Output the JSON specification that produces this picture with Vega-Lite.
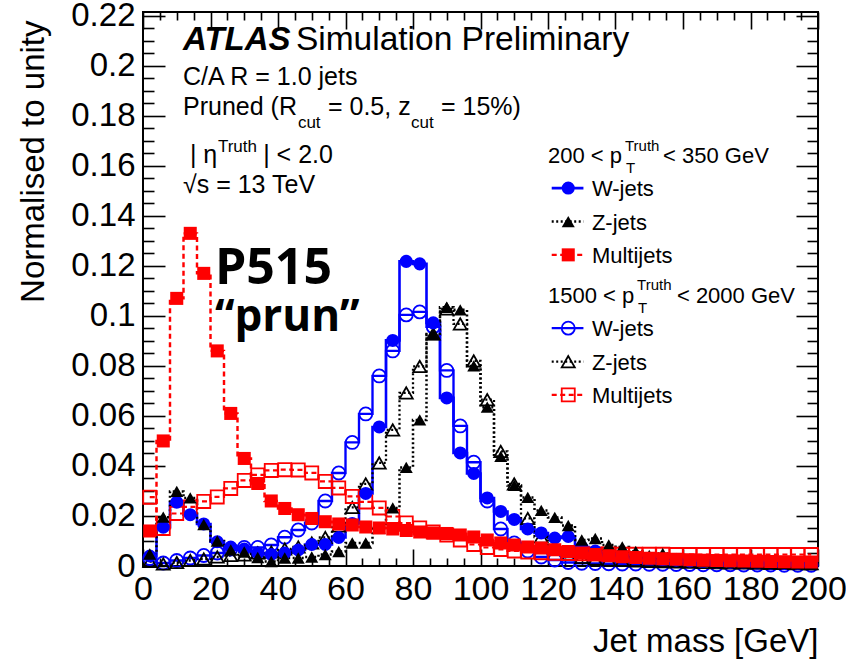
{
 "$schema": "https://vega.github.io/schema/vega-lite/v6.json",
 "width": 675,
 "height": 554,
 "autosize": {"type": "none"},
 "padding": {"left": 143, "top": 12, "right": 28, "bottom": 104},
 "background": "white",
 "config": {
  "view": {"stroke": "#000", "strokeWidth": 2},
  "font": "Liberation Sans",
  "axis": {"domain": false, "grid": false, "labelFont": "Liberation Sans", "titleFont": "Liberation Sans", "labelColor": "#000", "titleColor": "#000", "tickColor": "#000", "tickWidth": 1.6, "titleFontWeight": "normal", "labelOverlap": false, "labelFlush": false, "labelBound": false}
 },
 "datasets": {
  "h": [
   {"s":"Wl","m":2,"v":0.004},{"s":"Wl","m":6,"v":0.0155},{"s":"Wl","m":10,"v":0.0255},{"s":"Wl","m":14,"v":0.0205},{"s":"Wl","m":18,"v":0.0168},{"s":"Wl","m":22,"v":0.0097},{"s":"Wl","m":26,"v":0.0076},{"s":"Wl","m":30,"v":0.0068},{"s":"Wl","m":34,"v":0.0052},{"s":"Wl","m":38,"v":0.0046},
   {"s":"Wl","m":42,"v":0.0052},{"s":"Wl","m":46,"v":0.0064},{"s":"Wl","m":50,"v":0.0086},{"s":"Wl","m":54,"v":0.0086},{"s":"Wl","m":58,"v":0.0114},{"s":"Wl","m":62,"v":0.017},{"s":"Wl","m":66,"v":0.029},{"s":"Wl","m":70,"v":0.0556},{"s":"Wl","m":74,"v":0.0902},{"s":"Wl","m":78,"v":0.1218},
   {"s":"Wl","m":82,"v":0.1208},{"s":"Wl","m":86,"v":0.0972},{"s":"Wl","m":90,"v":0.0672},{"s":"Wl","m":94,"v":0.0452},{"s":"Wl","m":98,"v":0.037},{"s":"Wl","m":102,"v":0.0272},{"s":"Wl","m":106,"v":0.0218},{"s":"Wl","m":110,"v":0.0186},{"s":"Wl","m":114,"v":0.0148},{"s":"Wl","m":118,"v":0.0132},
   {"s":"Wl","m":122,"v":0.0112},{"s":"Wl","m":126,"v":0.0118},{"s":"Wl","m":130,"v":0.0076},{"s":"Wl","m":134,"v":0.006},{"s":"Wl","m":138,"v":0.0048},{"s":"Wl","m":142,"v":0.004},{"s":"Wl","m":146,"v":0.0034},{"s":"Wl","m":150,"v":0.003},{"s":"Wl","m":154,"v":0.0026},{"s":"Wl","m":158,"v":0.0023},
   {"s":"Wl","m":162,"v":0.002},{"s":"Wl","m":166,"v":0.0018},{"s":"Wl","m":170,"v":0.0016},{"s":"Wl","m":174,"v":0.0015},{"s":"Wl","m":178,"v":0.0013},{"s":"Wl","m":182,"v":0.0012},{"s":"Wl","m":186,"v":0.0011},{"s":"Wl","m":190,"v":0.001},{"s":"Wl","m":194,"v":0.001},{"s":"Wl","m":198,"v":0.0009},

   {"s":"Zl","m":2,"v":0.0048},{"s":"Zl","m":6,"v":0.0195},{"s":"Zl","m":10,"v":0.0298},{"s":"Zl","m":14,"v":0.0272},{"s":"Zl","m":18,"v":0.0166},{"s":"Zl","m":22,"v":0.01},{"s":"Zl","m":26,"v":0.0064},{"s":"Zl","m":30,"v":0.0056},{"s":"Zl","m":34,"v":0.0034},{"s":"Zl","m":38,"v":0.0018},
   {"s":"Zl","m":42,"v":0.0032},{"s":"Zl","m":46,"v":0.0032},{"s":"Zl","m":50,"v":0.0036},{"s":"Zl","m":54,"v":0.0046},{"s":"Zl","m":58,"v":0.0058},{"s":"Zl","m":62,"v":0.0092},{"s":"Zl","m":66,"v":0.0092},{"s":"Zl","m":70,"v":0.0152},{"s":"Zl","m":74,"v":0.0232},{"s":"Zl","m":78,"v":0.0394},
   {"s":"Zl","m":82,"v":0.0584},{"s":"Zl","m":86,"v":0.0925},{"s":"Zl","m":90,"v":0.1034},{"s":"Zl","m":94,"v":0.1024},{"s":"Zl","m":98,"v":0.08},{"s":"Zl","m":102,"v":0.0635},{"s":"Zl","m":106,"v":0.0438},{"s":"Zl","m":110,"v":0.0322},{"s":"Zl","m":114,"v":0.0274},{"s":"Zl","m":118,"v":0.0222},
   {"s":"Zl","m":122,"v":0.0194},{"s":"Zl","m":126,"v":0.0162},{"s":"Zl","m":130,"v":0.0104},{"s":"Zl","m":134,"v":0.011},{"s":"Zl","m":138,"v":0.0084},{"s":"Zl","m":142,"v":0.0076},{"s":"Zl","m":146,"v":0.0058},{"s":"Zl","m":150,"v":0.0042},{"s":"Zl","m":154,"v":0.005},{"s":"Zl","m":158,"v":0.003},
   {"s":"Zl","m":162,"v":0.0026},{"s":"Zl","m":166,"v":0.0018},{"s":"Zl","m":170,"v":0.0014},{"s":"Zl","m":174,"v":0.0016},{"s":"Zl","m":178,"v":0.0012},{"s":"Zl","m":182,"v":0.0012},{"s":"Zl","m":186,"v":0.001},{"s":"Zl","m":190,"v":0.0011},{"s":"Zl","m":194,"v":0.0009},{"s":"Zl","m":198,"v":0.0006},

   {"s":"Ml","m":2,"v":0.014},{"s":"Ml","m":6,"v":0.05},{"s":"Ml","m":10,"v":0.107},{"s":"Ml","m":14,"v":0.133},{"s":"Ml","m":18,"v":0.117},{"s":"Ml","m":22,"v":0.086},{"s":"Ml","m":26,"v":0.061},{"s":"Ml","m":30,"v":0.043},{"s":"Ml","m":34,"v":0.033},{"s":"Ml","m":38,"v":0.026},
   {"s":"Ml","m":42,"v":0.023},{"s":"Ml","m":46,"v":0.0205},{"s":"Ml","m":50,"v":0.019},{"s":"Ml","m":54,"v":0.0177},{"s":"Ml","m":58,"v":0.0168},{"s":"Ml","m":62,"v":0.0164},{"s":"Ml","m":66,"v":0.0156},{"s":"Ml","m":70,"v":0.0152},{"s":"Ml","m":74,"v":0.0148},{"s":"Ml","m":78,"v":0.0142},
   {"s":"Ml","m":82,"v":0.0136},{"s":"Ml","m":86,"v":0.0132},{"s":"Ml","m":90,"v":0.013},{"s":"Ml","m":94,"v":0.0124},{"s":"Ml","m":98,"v":0.0116},{"s":"Ml","m":102,"v":0.0104},{"s":"Ml","m":106,"v":0.0092},{"s":"Ml","m":110,"v":0.0084},{"s":"Ml","m":114,"v":0.0076},{"s":"Ml","m":118,"v":0.0072},
   {"s":"Ml","m":122,"v":0.0065},{"s":"Ml","m":126,"v":0.0058},{"s":"Ml","m":130,"v":0.0052},{"s":"Ml","m":134,"v":0.0046},{"s":"Ml","m":138,"v":0.0041},{"s":"Ml","m":142,"v":0.0037},{"s":"Ml","m":146,"v":0.0034},{"s":"Ml","m":150,"v":0.0031},{"s":"Ml","m":154,"v":0.0029},{"s":"Ml","m":158,"v":0.0027},
   {"s":"Ml","m":162,"v":0.0025},{"s":"Ml","m":166,"v":0.0023},{"s":"Ml","m":170,"v":0.0022},{"s":"Ml","m":174,"v":0.0021},{"s":"Ml","m":178,"v":0.002},{"s":"Ml","m":182,"v":0.0019},{"s":"Ml","m":186,"v":0.0018},{"s":"Ml","m":190,"v":0.0017},{"s":"Ml","m":194,"v":0.0016},{"s":"Ml","m":198,"v":0.0016},

   {"s":"Wh","m":2,"v":0.003},{"s":"Wh","m":6,"v":0.0012},{"s":"Wh","m":10,"v":0.0022},{"s":"Wh","m":14,"v":0.0032},{"s":"Wh","m":18,"v":0.0042},{"s":"Wh","m":22,"v":0.0052},{"s":"Wh","m":26,"v":0.0068},{"s":"Wh","m":30,"v":0.0074},{"s":"Wh","m":34,"v":0.0074},{"s":"Wh","m":38,"v":0.0084},
   {"s":"Wh","m":42,"v":0.0115},{"s":"Wh","m":46,"v":0.0144},{"s":"Wh","m":50,"v":0.0172},{"s":"Wh","m":54,"v":0.026},{"s":"Wh","m":58,"v":0.0372},{"s":"Wh","m":62,"v":0.0494},{"s":"Wh","m":66,"v":0.0608},{"s":"Wh","m":70,"v":0.076},{"s":"Wh","m":74,"v":0.086},{"s":"Wh","m":78,"v":0.1004},
   {"s":"Wh","m":82,"v":0.1016},{"s":"Wh","m":86,"v":0.0956},{"s":"Wh","m":90,"v":0.0782},{"s":"Wh","m":94,"v":0.056},{"s":"Wh","m":98,"v":0.0415},{"s":"Wh","m":102,"v":0.026},{"s":"Wh","m":106,"v":0.0148},{"s":"Wh","m":110,"v":0.0092},{"s":"Wh","m":114,"v":0.006},{"s":"Wh","m":118,"v":0.0036},
   {"s":"Wh","m":122,"v":0.0024},{"s":"Wh","m":126,"v":0.0014},{"s":"Wh","m":130,"v":0.0011},{"s":"Wh","m":134,"v":0.001},{"s":"Wh","m":138,"v":0.0009},{"s":"Wh","m":142,"v":0.0008},{"s":"Wh","m":146,"v":0.0008},{"s":"Wh","m":150,"v":0.0007},{"s":"Wh","m":154,"v":0.0007},{"s":"Wh","m":158,"v":0.0006},
   {"s":"Wh","m":162,"v":0.0006},{"s":"Wh","m":166,"v":0.0005},{"s":"Wh","m":170,"v":0.0005},{"s":"Wh","m":174,"v":0.0005},{"s":"Wh","m":178,"v":0.0004},{"s":"Wh","m":182,"v":0.0004},{"s":"Wh","m":186,"v":0.0004},{"s":"Wh","m":190,"v":0.0003},{"s":"Wh","m":194,"v":0.0003},{"s":"Wh","m":198,"v":0.0003},

   {"s":"Zh","m":2,"v":0.0018},{"s":"Zh","m":6,"v":0.0008},{"s":"Zh","m":10,"v":0.0014},{"s":"Zh","m":14,"v":0.0022},{"s":"Zh","m":18,"v":0.0028},{"s":"Zh","m":22,"v":0.0036},{"s":"Zh","m":26,"v":0.0042},{"s":"Zh","m":30,"v":0.0044},{"s":"Zh","m":34,"v":0.0052},{"s":"Zh","m":38,"v":0.0056},
   {"s":"Zh","m":42,"v":0.0068},{"s":"Zh","m":46,"v":0.0076},{"s":"Zh","m":50,"v":0.0092},{"s":"Zh","m":54,"v":0.0114},{"s":"Zh","m":58,"v":0.016},{"s":"Zh","m":62,"v":0.0234},{"s":"Zh","m":66,"v":0.0328},{"s":"Zh","m":70,"v":0.0412},{"s":"Zh","m":74,"v":0.0544},{"s":"Zh","m":78,"v":0.0692},
   {"s":"Zh","m":82,"v":0.0798},{"s":"Zh","m":86,"v":0.0928},{"s":"Zh","m":90,"v":0.1028},{"s":"Zh","m":94,"v":0.0968},{"s":"Zh","m":98,"v":0.082},{"s":"Zh","m":102,"v":0.0665},{"s":"Zh","m":106,"v":0.0458},{"s":"Zh","m":110,"v":0.0328},{"s":"Zh","m":114,"v":0.019},{"s":"Zh","m":118,"v":0.0116},
   {"s":"Zh","m":122,"v":0.0074},{"s":"Zh","m":126,"v":0.0048},{"s":"Zh","m":130,"v":0.0034},{"s":"Zh","m":134,"v":0.0028},{"s":"Zh","m":138,"v":0.0024},{"s":"Zh","m":142,"v":0.0022},{"s":"Zh","m":146,"v":0.002},{"s":"Zh","m":150,"v":0.0018},{"s":"Zh","m":154,"v":0.0017},{"s":"Zh","m":158,"v":0.0016},
   {"s":"Zh","m":162,"v":0.0015},{"s":"Zh","m":166,"v":0.0014},{"s":"Zh","m":170,"v":0.0013},{"s":"Zh","m":174,"v":0.0012},{"s":"Zh","m":178,"v":0.0012},{"s":"Zh","m":182,"v":0.0011},{"s":"Zh","m":186,"v":0.001},{"s":"Zh","m":190,"v":0.001},{"s":"Zh","m":194,"v":0.0009},{"s":"Zh","m":198,"v":0.0009},

   {"s":"Mh","m":2,"v":0.0275},{"s":"Mh","m":6,"v":0.015},{"s":"Mh","m":10,"v":0.021},{"s":"Mh","m":14,"v":0.0236},{"s":"Mh","m":18,"v":0.0258},{"s":"Mh","m":22,"v":0.0276},{"s":"Mh","m":26,"v":0.031},{"s":"Mh","m":30,"v":0.0342},{"s":"Mh","m":34,"v":0.0364},{"s":"Mh","m":38,"v":0.0382},
   {"s":"Mh","m":42,"v":0.0385},{"s":"Mh","m":46,"v":0.0384},{"s":"Mh","m":50,"v":0.0372},{"s":"Mh","m":54,"v":0.0338},{"s":"Mh","m":58,"v":0.0312},{"s":"Mh","m":62,"v":0.0278},{"s":"Mh","m":66,"v":0.0256},{"s":"Mh","m":70,"v":0.0232},{"s":"Mh","m":74,"v":0.0198},{"s":"Mh","m":78,"v":0.0172},
   {"s":"Mh","m":82,"v":0.0152},{"s":"Mh","m":86,"v":0.0136},{"s":"Mh","m":90,"v":0.0124},{"s":"Mh","m":94,"v":0.0104},{"s":"Mh","m":98,"v":0.0086},{"s":"Mh","m":102,"v":0.0074},{"s":"Mh","m":106,"v":0.0066},{"s":"Mh","m":110,"v":0.006},{"s":"Mh","m":114,"v":0.0056},{"s":"Mh","m":118,"v":0.0053},
   {"s":"Mh","m":122,"v":0.0051},{"s":"Mh","m":126,"v":0.005},{"s":"Mh","m":130,"v":0.0049},{"s":"Mh","m":134,"v":0.0048},{"s":"Mh","m":138,"v":0.0048},{"s":"Mh","m":142,"v":0.0047},{"s":"Mh","m":146,"v":0.0047},{"s":"Mh","m":150,"v":0.0047},{"s":"Mh","m":154,"v":0.0047},{"s":"Mh","m":158,"v":0.0046},
   {"s":"Mh","m":162,"v":0.0046},{"s":"Mh","m":166,"v":0.0046},{"s":"Mh","m":170,"v":0.0046},{"s":"Mh","m":174,"v":0.0046},{"s":"Mh","m":178,"v":0.0046},{"s":"Mh","m":182,"v":0.0046},{"s":"Mh","m":186,"v":0.0046},{"s":"Mh","m":190,"v":0.0046},{"s":"Mh","m":194,"v":0.0046},{"s":"Mh","m":198,"v":0.0046}
  ],
  "legl": [
   {"s":"Wl","lx":121.1,"ly":0.1511},{"s":"Wl","lx":130.5,"ly":0.1511},
   {"s":"Zl","lx":121.1,"ly":0.1377},{"s":"Zl","lx":130.5,"ly":0.1377},
   {"s":"Ml","lx":121.1,"ly":0.1244},{"s":"Ml","lx":130.5,"ly":0.1244},
   {"s":"Wh","lx":121.1,"ly":0.0951},{"s":"Wh","lx":130.5,"ly":0.0951},
   {"s":"Zh","lx":121.1,"ly":0.0817},{"s":"Zh","lx":130.5,"ly":0.0817},
   {"s":"Mh","lx":121.1,"ly":0.0684},{"s":"Mh","lx":130.5,"ly":0.0684}
  ],
  "legp": [
   {"s":"Wl","lx":126,"ly":0.1511},{"s":"Zl","lx":126,"ly":0.1377},{"s":"Ml","lx":126,"ly":0.1244},
   {"s":"Wh","lx":126,"ly":0.0951},{"s":"Zh","lx":126,"ly":0.0817},{"s":"Mh","lx":126,"ly":0.0684}
  ],
  "txt": [
   {"g":"main","t":"C/A R = 1.0 jets","x":11.85,"y":0.1924},
   {"g":"main","t":"Pruned (R","x":11.85,"y":0.1804},
   {"g":"main","t":"= 0.5, z","x":54.8,"y":0.1804},
   {"g":"main","t":"= 15%)","x":88.3,"y":0.1804},
   {"g":"main","t":"| η","x":13.9,"y":0.1612},
   {"g":"main","t":"| < 2.0","x":35.6,"y":0.1612},
   {"g":"main","t":"√s = 13 TeV","x":11.85,"y":0.1492},
   {"g":"sub","t":"cut","x":45.9,"y":0.1752},
   {"g":"sub","t":"cut","x":79.4,"y":0.1752},
   {"g":"sub","t":"Truth","x":22.2,"y":0.1656},
   {"g":"atlas","t":"ATLAS","x":11.85,"y":0.2064},
   {"g":"sim","t":"Simulation Preliminary","x":45.3,"y":0.2064},
   {"g":"leg","t":"200 < p","x":120,"y":0.1612},
   {"g":"leg","t":"< 350 GeV","x":154.1,"y":0.1612},
   {"g":"leg","t":"W-jets","x":133,"y":0.1479},
   {"g":"leg","t":"Z-jets","x":133,"y":0.1345},
   {"g":"leg","t":"Multijets","x":133,"y":0.1212},
   {"g":"leg","t":"1500 < p","x":120,"y":0.1052},
   {"g":"leg","t":"< 2000 GeV","x":158.2,"y":0.1052},
   {"g":"leg","t":"W-jets","x":133,"y":0.0919},
   {"g":"leg","t":"Z-jets","x":133,"y":0.0785},
   {"g":"leg","t":"Multijets","x":133,"y":0.0652},
   {"g":"legs","t":"Truth","x":142.8,"y":0.166},
   {"g":"legs","t":"T","x":143.1,"y":0.1572},
   {"g":"legs","t":"Truth","x":146.4,"y":0.1104},
   {"g":"legs","t":"T","x":146.7,"y":0.1012},
   {"g":"big","t":"P515","x":21.3,"y":0.1128},
   {"g":"big2","t":"“prun”","x":21.3,"y":0.0938}
  ]
 },
 "resolve": {"scale": {"x": "shared", "y": "shared"}, "axis": {"x": "independent", "y": "independent"}},
 "layer": [
  {
   "data": {"name": "h"},
   "mark": {"type": "line", "interpolate": "step"},
   "encoding": {
    "x": {"field": "m", "type": "quantitative", "scale": {"domain": [0, 200], "nice": false, "zero": false},
     "axis": {"orient": "bottom", "values": [0,20,40,60,80,100,120,140,160,180,200], "ticks": false, "labelFontSize": 34, "labelPadding": 6, "title": "Jet mass [GeV]", "titleFontSize": 33, "titleAnchor": "end", "titleAlign": "right", "titleBaseline": "alphabetic", "titleX": 675, "titleY": 85}},
    "y": {"field": "v", "type": "quantitative", "scale": {"domain": [0, 0.2215], "nice": false, "zero": false},
     "axis": {"orient": "left", "values": [0,0.02,0.04,0.06,0.08,0.1,0.12,0.14,0.16,0.18,0.2,0.22], "format": "~g", "ticks": false, "labelFontSize": 33, "labelPadding": 8, "title": "Normalised to unity", "titleFontSize": 33, "titleAngle": -90, "titleAlign": "right", "titleBaseline": "alphabetic", "titleX": -100, "titleY": 8}},
    "color": {"field": "s", "type": "nominal", "scale": {"domain": ["Wl","Zl","Ml","Wh","Zh","Mh"], "range": ["#0000ff","#000000","#ff0000","#0000ff","#000000","#ff0000"]}, "legend": null},
    "strokeDash": {"field": "s", "type": "nominal", "scale": {"domain": ["Wl","Zl","Ml","Wh","Zh","Mh"], "range": [[1,0],[2,2.5],[5,3.5],[1,0],[2,2.5],[5,3.5]]}, "legend": null},
    "strokeWidth": {"field": "s", "type": "nominal", "scale": {"domain": ["Wl","Zl","Ml","Wh","Zh","Mh"], "range": [2.6,2.2,2.8,2.6,2.2,2.8]}, "legend": null}
   }
  },
  {
   "data": {"name": "h"},
   "transform": [{"filter": {"field": "s", "oneOf": ["Wh","Zh","Mh"]}}],
   "mark": {"type": "point", "filled": false, "strokeWidth": 1.8, "size": 170, "opacity": 1},
   "encoding": {
    "x": {"field": "m", "type": "quantitative", "scale": {"domain": [0, 200], "nice": false, "zero": false},
     "axis": {"orient": "bottom", "values": [0,20,40,60,80,100,120,140,160,180,200], "labels": false, "tickSize": -17, "title": null}},
    "y": {"field": "v", "type": "quantitative", "scale": {"domain": [0, 0.2215], "nice": false, "zero": false},
     "axis": {"orient": "left", "values": [0,0.02,0.04,0.06,0.08,0.1,0.12,0.14,0.16,0.18,0.2,0.22], "labels": false, "tickSize": -22, "title": null}},
    "color": {"field": "s", "type": "nominal", "legend": null},
    "shape": {"field": "s", "type": "nominal", "scale": {"domain": ["Wl","Zl","Ml","Wh","Zh","Mh"], "range": ["circle","triangle-up","square","circle","triangle-up","square"]}, "legend": null}
   }
  },
  {
   "data": {"name": "h"},
   "transform": [{"filter": {"field": "s", "oneOf": ["Wl","Zl","Ml"]}}],
   "mark": {"type": "point", "filled": true, "size": 170, "opacity": 1},
   "encoding": {
    "x": {"field": "m", "type": "quantitative", "scale": {"domain": [0, 200], "nice": false, "zero": false},
     "axis": {"orient": "bottom", "values": [5,10,15,25,30,35,45,50,55,65,70,75,85,90,95,105,110,115,125,130,135,145,150,155,165,170,175,185,190,195], "labels": false, "tickSize": -8, "title": null}},
    "y": {"field": "v", "type": "quantitative", "scale": {"domain": [0, 0.2215], "nice": false, "zero": false},
     "axis": {"orient": "left", "values": [0.005,0.01,0.015,0.025,0.03,0.035,0.045,0.05,0.055,0.065,0.07,0.075,0.085,0.09,0.095,0.105,0.11,0.115,0.125,0.13,0.135,0.145,0.15,0.155,0.165,0.17,0.175,0.185,0.19,0.195,0.205,0.21,0.215], "labels": false, "tickSize": -11, "title": null}},
    "color": {"field": "s", "type": "nominal", "legend": null},
    "shape": {"field": "s", "type": "nominal", "legend": null}
   }
  },
  {
   "data": {"name": "legl"},
   "mark": {"type": "line"},
   "encoding": {
    "x": {"field": "lx", "type": "quantitative", "scale": {"domain": [0, 200], "nice": false, "zero": false},
     "axis": {"orient": "top", "values": [0,20,40,60,80,100,120,140,160,180,200], "labels": false, "tickSize": -17, "title": null}},
    "y": {"field": "ly", "type": "quantitative", "scale": {"domain": [0, 0.2215], "nice": false, "zero": false},
     "axis": {"orient": "right", "values": [0,0.02,0.04,0.06,0.08,0.1,0.12,0.14,0.16,0.18,0.2,0.22], "labels": false, "tickSize": -22, "title": null}},
    "detail": {"field": "s", "type": "nominal"},
    "color": {"field": "s", "type": "nominal", "legend": null},
    "strokeDash": {"field": "s", "type": "nominal", "legend": null},
    "strokeWidth": {"field": "s", "type": "nominal", "legend": null}
   }
  },
  {
   "data": {"name": "legp"},
   "transform": [{"filter": {"field": "s", "oneOf": ["Wl","Zl","Ml"]}}],
   "mark": {"type": "point", "filled": true, "size": 170, "opacity": 1},
   "encoding": {
    "x": {"field": "lx", "type": "quantitative", "scale": {"domain": [0, 200], "nice": false, "zero": false},
     "axis": {"orient": "top", "values": [5,10,15,25,30,35,45,50,55,65,70,75,85,90,95,105,110,115,125,130,135,145,150,155,165,170,175,185,190,195], "labels": false, "tickSize": -8, "title": null}},
    "y": {"field": "ly", "type": "quantitative", "scale": {"domain": [0, 0.2215], "nice": false, "zero": false},
     "axis": {"orient": "right", "values": [0.005,0.01,0.015,0.025,0.03,0.035,0.045,0.05,0.055,0.065,0.07,0.075,0.085,0.09,0.095,0.105,0.11,0.115,0.125,0.13,0.135,0.145,0.15,0.155,0.165,0.17,0.175,0.185,0.19,0.195,0.205,0.21,0.215], "labels": false, "tickSize": -11, "title": null}},
    "color": {"field": "s", "type": "nominal", "legend": null},
    "shape": {"field": "s", "type": "nominal", "legend": null}
   }
  },
  {
   "data": {"name": "legp"},
   "transform": [{"filter": {"field": "s", "oneOf": ["Wh","Zh","Mh"]}}],
   "mark": {"type": "point", "filled": false, "strokeWidth": 1.8, "size": 170, "opacity": 1},
   "encoding": {
    "x": {"field": "lx", "type": "quantitative", "scale": {"domain": [0, 200], "nice": false, "zero": false}, "axis": null},
    "y": {"field": "ly", "type": "quantitative", "scale": {"domain": [0, 0.2215], "nice": false, "zero": false}, "axis": null},
    "color": {"field": "s", "type": "nominal", "legend": null},
    "shape": {"field": "s", "type": "nominal", "legend": null}
   }
  },
  {
   "data": {"name": "txt"},
   "transform": [{"filter": {"field": "g", "equal": "main"}}],
   "mark": {"type": "text", "font": "Liberation Sans", "fontSize": 25, "align": "left", "baseline": "alphabetic", "color": "#000"},
   "encoding": {
    "x": {"field": "x", "type": "quantitative", "scale": {"domain": [0, 200], "nice": false, "zero": false}, "axis": null},
    "y": {"field": "y", "type": "quantitative", "scale": {"domain": [0, 0.2215], "nice": false, "zero": false}, "axis": null},
    "text": {"field": "t"}
   }
  },
  {
   "data": {"name": "txt"},
   "transform": [{"filter": {"field": "g", "equal": "sub"}}],
   "mark": {"type": "text", "font": "Liberation Sans", "fontSize": 17, "align": "left", "baseline": "alphabetic", "color": "#000"},
   "encoding": {
    "x": {"field": "x", "type": "quantitative", "scale": {"domain": [0, 200], "nice": false, "zero": false}, "axis": null},
    "y": {"field": "y", "type": "quantitative", "scale": {"domain": [0, 0.2215], "nice": false, "zero": false}, "axis": null},
    "text": {"field": "t"}
   }
  },
  {
   "data": {"name": "txt"},
   "transform": [{"filter": {"field": "g", "equal": "atlas"}}],
   "mark": {"type": "text", "font": "Liberation Sans", "fontSize": 33, "fontWeight": "bold", "fontStyle": "italic", "align": "left", "baseline": "alphabetic", "color": "#000"},
   "encoding": {
    "x": {"field": "x", "type": "quantitative", "scale": {"domain": [0, 200], "nice": false, "zero": false}, "axis": null},
    "y": {"field": "y", "type": "quantitative", "scale": {"domain": [0, 0.2215], "nice": false, "zero": false}, "axis": null},
    "text": {"field": "t"}
   }
  },
  {
   "data": {"name": "txt"},
   "transform": [{"filter": {"field": "g", "equal": "sim"}}],
   "mark": {"type": "text", "font": "Liberation Sans", "fontSize": 33.5, "align": "left", "baseline": "alphabetic", "color": "#000"},
   "encoding": {
    "x": {"field": "x", "type": "quantitative", "scale": {"domain": [0, 200], "nice": false, "zero": false}, "axis": null},
    "y": {"field": "y", "type": "quantitative", "scale": {"domain": [0, 0.2215], "nice": false, "zero": false}, "axis": null},
    "text": {"field": "t"}
   }
  },
  {
   "data": {"name": "txt"},
   "transform": [{"filter": {"field": "g", "equal": "leg"}}],
   "mark": {"type": "text", "font": "Liberation Sans", "fontSize": 22, "align": "left", "baseline": "alphabetic", "color": "#000"},
   "encoding": {
    "x": {"field": "x", "type": "quantitative", "scale": {"domain": [0, 200], "nice": false, "zero": false}, "axis": null},
    "y": {"field": "y", "type": "quantitative", "scale": {"domain": [0, 0.2215], "nice": false, "zero": false}, "axis": null},
    "text": {"field": "t"}
   }
  },
  {
   "data": {"name": "txt"},
   "transform": [{"filter": {"field": "g", "equal": "legs"}}],
   "mark": {"type": "text", "font": "Liberation Sans", "fontSize": 15, "align": "left", "baseline": "alphabetic", "color": "#000"},
   "encoding": {
    "x": {"field": "x", "type": "quantitative", "scale": {"domain": [0, 200], "nice": false, "zero": false}, "axis": null},
    "y": {"field": "y", "type": "quantitative", "scale": {"domain": [0, 0.2215], "nice": false, "zero": false}, "axis": null},
    "text": {"field": "t"}
   }
  },
  {
   "data": {"name": "txt"},
   "transform": [{"filter": {"field": "g", "equal": "big"}}],
   "mark": {"type": "text", "font": "Open Sans", "fontSize": 50, "fontWeight": "bold", "align": "left", "baseline": "alphabetic", "color": "#000"},
   "encoding": {
    "x": {"field": "x", "type": "quantitative", "scale": {"domain": [0, 200], "nice": false, "zero": false}, "axis": null},
    "y": {"field": "y", "type": "quantitative", "scale": {"domain": [0, 0.2215], "nice": false, "zero": false}, "axis": null},
    "text": {"field": "t"}
   }
  },
  {
   "data": {"name": "txt"},
   "transform": [{"filter": {"field": "g", "equal": "big2"}}],
   "mark": {"type": "text", "font": "Open Sans", "fontSize": 44, "fontWeight": "bold", "align": "left", "baseline": "alphabetic", "color": "#000"},
   "encoding": {
    "x": {"field": "x", "type": "quantitative", "scale": {"domain": [0, 200], "nice": false, "zero": false}, "axis": null},
    "y": {"field": "y", "type": "quantitative", "scale": {"domain": [0, 0.2215], "nice": false, "zero": false}, "axis": null},
    "text": {"field": "t"}
   }
  }
 ]
}
